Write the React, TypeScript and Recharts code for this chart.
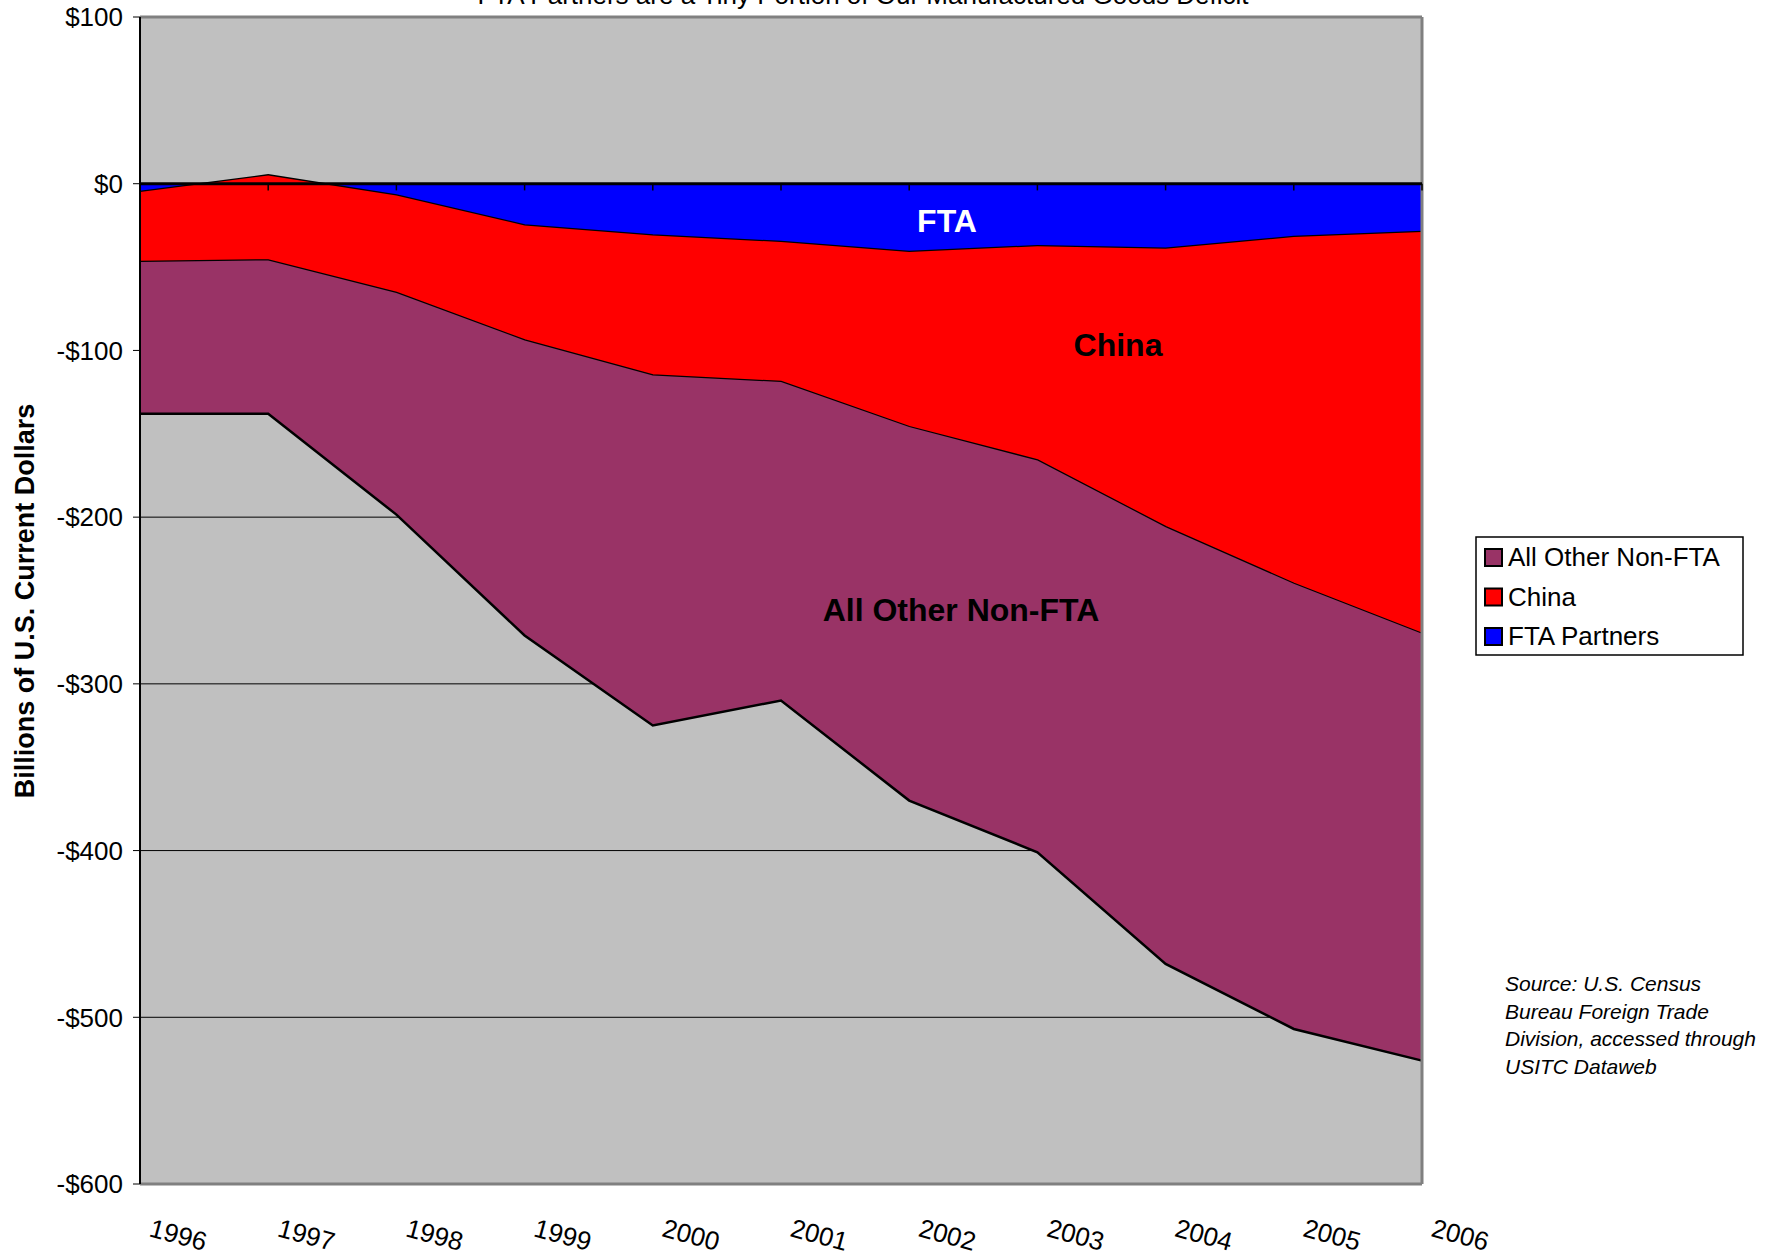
import { Area, AreaChart, CartesianGrid, ReferenceLine, XAxis, YAxis } from 'recharts';

// values in billions of US dollars
const years = [1996, 1997, 1998, 1999, 2000, 2001, 2002, 2003, 2004, 2005, 2006];
const ftaPartners = [-5, 5, -7, -25, -31, -35, -41, -37.5, -39, -32, -29];
const china = [-42, -51, -58.5, -69, -84, -84, -105, -128.5, -167, -208, -241];
const allOtherNonFta = [-91, -92, -133, -177, -210, -191, -224, -235, -262, -267, -256];
const yTicks = [100, 0, -100, -200, -300, -400, -500, -600];

const legendItems = [
  { name: 'All Other Non-FTA', color: '#993366' },
  { name: 'China', color: '#FF0000' },
  { name: 'FTA Partners', color: '#0000FF' },
];

const sourceLines = [
  'Source: U.S. Census',
  'Bureau Foreign Trade',
  'Division, accessed through',
  'USITC Dataweb',
];

const data = years.map((year, i) => ({
  year,
  fta: ftaPartners[i],
  china: china[i],
  other: allOtherNonFta[i],
}));

const FONT = '"Liberation Sans", Arial, sans-serif';

const dollarFormat = (v: number) => (v < 0 ? `-$${-v}` : `$${v}`);

function YearTick(props: any) {
  const { x, y, payload } = props;
  const tx = x + 8;
  const ty = y + 44;
  return (
    <text
      x={tx}
      y={ty}
      fontSize={26}
      fontFamily={FONT}
      fill="#000"
      textAnchor="start"
      transform={`rotate(15, ${tx}, ${ty})`}
    >
      {payload.value}
    </text>
  );
}

export default function App() {
  return (
    <div style={{ position: 'absolute', left: 0, top: 0, width: 1784, height: 1258, background: '#fff' }}>
      <AreaChart
        width={1784}
        height={1258}
        data={data}
        margin={{ top: 17, right: 362, bottom: 0, left: 0 }}
      >
        <CartesianGrid vertical={false} stroke="#000" strokeWidth={1} fill="#C0C0C0" fillOpacity={1} />
        <XAxis
          dataKey="year"
          height={74}
          axisLine={false}
          tickLine={false}
          tick={<YearTick />}
          interval={0}
        />
        <YAxis
          width={140}
          domain={[-600, 100]}
          ticks={yTicks}
          tickFormatter={dollarFormat}
          tick={{ fontSize: 26, fontFamily: FONT, fill: '#000' }}
          tickLine={{ stroke: '#000' }}
          tickSize={7}
          tickMargin={10}
          axisLine={{ stroke: '#000', strokeWidth: 2 }}
          interval={0}
        />
        <Area
          type="linear"
          dataKey="fta"
          stackId="1"
          fill="#0000FF"
          fillOpacity={1}
          stroke="#000"
          strokeWidth={2.5}
          isAnimationActive={false}
          activeDot={false}
        />
        <Area
          type="linear"
          dataKey="china"
          stackId="1"
          fill="#FF0000"
          fillOpacity={1}
          stroke="#000"
          strokeWidth={2.5}
          isAnimationActive={false}
          activeDot={false}
        />
        <Area
          type="linear"
          dataKey="other"
          stackId="1"
          fill="#993366"
          fillOpacity={1}
          stroke="#000"
          strokeWidth={2.5}
          isAnimationActive={false}
          activeDot={false}
        />
        <ReferenceLine y={100} stroke="#808080" strokeWidth={3} />
        <ReferenceLine y={-600} stroke="#808080" strokeWidth={3} />
        <ReferenceLine x={2006} stroke="#808080" strokeWidth={3} />
        <ReferenceLine y={0} stroke="#000" strokeWidth={3} />
        {years.map((yr) => (
          <ReferenceLine
            key={yr}
            segment={[
              { x: yr, y: 0 },
              { x: yr, y: -4 },
            ]}
            stroke="#000"
            strokeWidth={1.5}
          />
        ))}
      </AreaChart>
      <svg
        width={1784}
        height={1258}
        style={{ position: 'absolute', left: 0, top: 0, pointerEvents: 'none' }}
        fontFamily={FONT}
      >
        <text x={863} y={4} fontSize={26} textAnchor="middle" fill="#000">
          FTA Partners are a Tiny Portion of Our Manufactured Goods Deficit
        </text>
        <text
          x={0}
          y={0}
          fontSize={27}
          fontWeight="bold"
          textAnchor="middle"
          fill="#000"
          transform="translate(34, 601) rotate(-90)"
        >
          Billions of U.S. Current Dollars
        </text>
        <text x={947} y={232} fontSize={32} fontWeight="bold" fill="#fff" textAnchor="middle">
          FTA
        </text>
        <text x={1118} y={356} fontSize={32} fontWeight="bold" fill="#000" textAnchor="middle">
          China
        </text>
        <text x={961} y={621} fontSize={32} fontWeight="bold" fill="#000" textAnchor="middle">
          All Other Non-FTA
        </text>
        <rect x={1476} y={537} width={267} height={118} fill="#fff" stroke="#000" strokeWidth={1.5} />
        {legendItems.map((item, i) => (
          <g key={item.name}>
            <rect
              x={1485}
              y={549 + i * 39.5}
              width={17}
              height={17}
              fill={item.color}
              stroke="#000"
              strokeWidth={2}
            />
            <text x={1508} y={566 + i * 39.5} fontSize={26} fill="#000">
              {item.name}
            </text>
          </g>
        ))}
        {sourceLines.map((line, i) => (
          <text key={line} x={1505} y={991 + i * 27.5} fontSize={21} fontStyle="italic" fill="#000">
            {line}
          </text>
        ))}
      </svg>
    </div>
  );
}
